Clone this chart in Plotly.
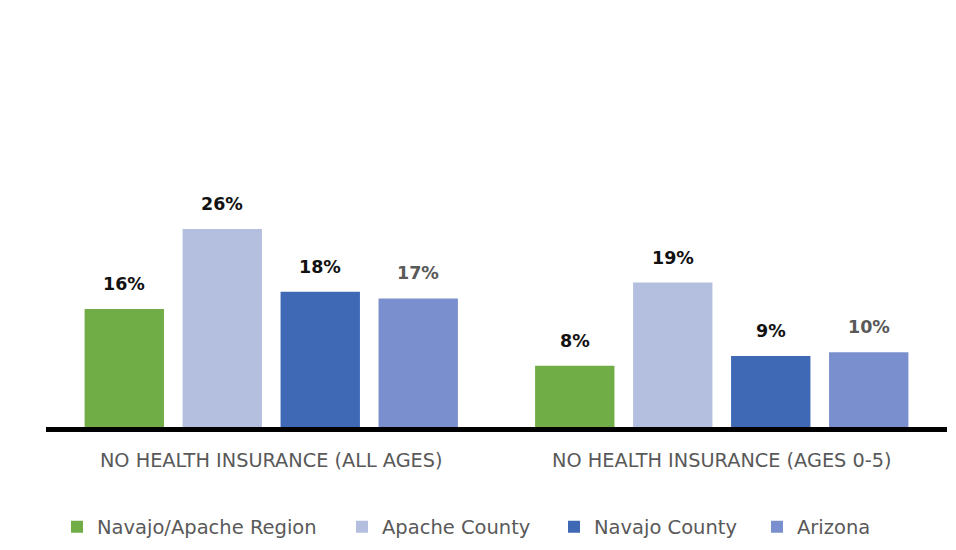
import plotly.graph_objects as go

categories = ["NO HEALTH INSURANCE (ALL AGES)", "NO HEALTH INSURANCE (AGES 0-5)"]
series_names = ["Navajo/Apache Region", "Apache County", "Navajo County", "Arizona"]
navajo_apache = [15.6, 8.1]
apache_county = [26.2, 19.1]
navajo_county = [17.9, 9.4]
arizona = [17.0, 9.9]
labels = [["16%", "8%"], ["26%", "19%"], ["18%", "9%"], ["17%", "10%"]]

values = [navajo_apache, apache_county, navajo_county, arizona]
colors = ["#70AD47", "#B4BFDF", "#3F69B5", "#7A8FCE"]
label_colors = ["#111111", "#111111", "#111111", "#595959"]

# page offset compensation (body margin of the html page)
OFF = 8
W, H = 956, 550
plot_left, plot_right, plot_top, plot_bottom = 46 - OFF, 947 - OFF, 49 - OFF, 427 - OFF
plot_w = plot_right - plot_left
plot_h = plot_bottom - plot_top

BARGAP = 0.13
n = len(series_names)
legend_text_x = [97, 382, 594, 797]  # page pixels where legend text starts

fig = go.Figure()
legend_layouts = {}
for k, (name, vals, col) in enumerate(zip(series_names, values, colors)):
    lname = "legend" if k == 0 else f"legend{k+1}"
    fig.add_trace(go.Bar(name=name, x=categories, y=vals, marker_color=col,
                         marker_line_width=0, hoverinfo="skip", legend=lname))
    lx = (legend_text_x[k] - OFF - 40 - plot_left) / plot_w
    legend_layouts[lname] = dict(
        orientation="h", x=lx, xanchor="left",
        y=(plot_bottom - (527 - OFF)) / plot_h, yanchor="middle",
        font=dict(family="DejaVu Sans", size=19.5, color="#595959"),
        bgcolor="rgba(0,0,0,0)", itemclick=False, itemdoubleclick=False)

slot = (1 - BARGAP) / n
annotations = []
for s, (vals, labs) in enumerate(zip(values, labels)):
    for i, (v, t) in enumerate(zip(vals, labs)):
        annotations.append(dict(
            x=i + (s - (n - 1) / 2) * slot, y=v, xref="x", yref="y",
            text=f"<b>{t}</b>", showarrow=False, yanchor="middle", yshift=25,
            font=dict(family="DejaVu Sans", size=17.5, color=label_colors[s])))

fig.update_layout(
    width=W, height=H,
    margin=dict(l=plot_left, r=W - plot_right, t=plot_top, b=H - plot_bottom, autoexpand=False),
    paper_bgcolor="white", plot_bgcolor="white",
    barmode="group", bargap=BARGAP, bargroupgap=0.19,
    showlegend=True,
    xaxis=dict(showline=True, linecolor="black", linewidth=5, ticks="",
               tickfont=dict(family="DejaVu Sans", size=19.3, color="#595959"),
               ticklabelstandoff=12, showgrid=False, zeroline=False),
    yaxis=dict(range=[0, 50], visible=False, showgrid=False, zeroline=False),
    annotations=annotations,
    **legend_layouts,
)

fig.write_html("out.html")
